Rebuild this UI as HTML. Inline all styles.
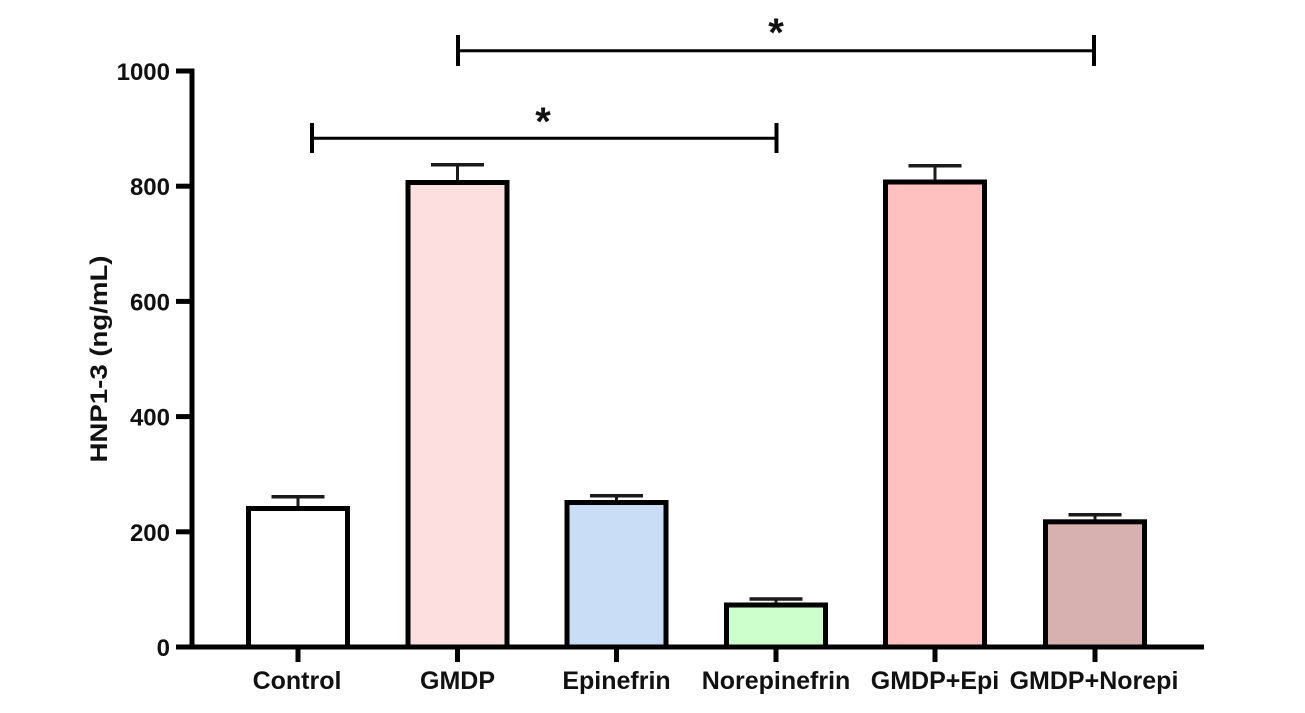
<!DOCTYPE html>
<html>
<head>
<meta charset="utf-8">
<style>
  html, body { margin: 0; padding: 0; background: #ffffff; }
  svg { display: block; }
  text { font-family: "Liberation Sans", Arial, sans-serif; font-weight: bold; fill: #111; }
</style>
</head>
<body>
<svg width="1305" height="713" viewBox="0 0 1305 713" xmlns="http://www.w3.org/2000/svg">
  <rect x="0" y="0" width="1305" height="713" fill="#ffffff"/>

  <!-- Bars -->
  <rect x="248.5" y="508.5" width="99" height="138.5" fill="#ffffff" stroke="#000" stroke-width="5"/>
  <rect x="408" y="182.5" width="99" height="464.5" fill="#fedfe0" stroke="#000" stroke-width="5"/>
  <rect x="567" y="502.5" width="99" height="144.5" fill="#c9ddf6" stroke="#000" stroke-width="5"/>
  <rect x="726.5" y="605" width="99" height="42" fill="#ccffcc" stroke="#000" stroke-width="5"/>
  <rect x="885.5" y="182" width="99" height="465" fill="#ffc0c0" stroke="#000" stroke-width="5"/>
  <rect x="1045.5" y="521.8" width="99" height="125.2" fill="#d6b1b0" stroke="#000" stroke-width="5"/>

  <!-- Error bars -->
  <g stroke="#1a1a1a" fill="none">
    <line x1="298" y1="496.7" x2="298" y2="506" stroke-width="3"/>
    <line x1="271.5" y1="496.7" x2="324.5" y2="496.7" stroke-width="3.5"/>
    <line x1="457.5" y1="164.7" x2="457.5" y2="180" stroke-width="3"/>
    <line x1="431" y1="164.7" x2="484" y2="164.7" stroke-width="3.5"/>
    <line x1="616.5" y1="495.7" x2="616.5" y2="500" stroke-width="3"/>
    <line x1="590" y1="495.7" x2="643" y2="495.7" stroke-width="3.5"/>
    <line x1="776" y1="599" x2="776" y2="603" stroke-width="3"/>
    <line x1="749.5" y1="599" x2="802.5" y2="599" stroke-width="3.5"/>
    <line x1="935" y1="165.7" x2="935" y2="180" stroke-width="3"/>
    <line x1="908.5" y1="165.7" x2="961.5" y2="165.7" stroke-width="3.5"/>
    <line x1="1095" y1="514.7" x2="1095" y2="519.5" stroke-width="3"/>
    <line x1="1068.5" y1="514.7" x2="1121.5" y2="514.7" stroke-width="3.5"/>
  </g>

  <!-- Axes -->
  <g stroke="#000" stroke-width="5" fill="none">
    <line x1="192" y1="68.5" x2="192" y2="649.5"/>
    <line x1="176" y1="647" x2="1204" y2="647"/>
    <!-- y ticks -->
    <line x1="176" y1="71" x2="192" y2="71"/>
    <line x1="176" y1="186.2" x2="192" y2="186.2"/>
    <line x1="176" y1="301.4" x2="192" y2="301.4"/>
    <line x1="176" y1="416.6" x2="192" y2="416.6"/>
    <line x1="176" y1="531.8" x2="192" y2="531.8"/>
    <!-- x ticks -->
    <line x1="298" y1="647" x2="298" y2="662"/>
    <line x1="457.5" y1="647" x2="457.5" y2="662"/>
    <line x1="616.5" y1="647" x2="616.5" y2="662"/>
    <line x1="776" y1="647" x2="776" y2="662"/>
    <line x1="935" y1="647" x2="935" y2="662"/>
    <line x1="1095" y1="647" x2="1095" y2="662"/>
  </g>

  <!-- Y tick labels -->
  <g font-size="24" text-anchor="end">
    <text x="170" y="80">1000</text>
    <text x="170" y="195.2">800</text>
    <text x="170" y="310.4">600</text>
    <text x="170" y="425.6">400</text>
    <text x="170" y="540.8">200</text>
    <text x="170" y="656">0</text>
  </g>

  <!-- X labels -->
  <g font-size="25" text-anchor="middle">
    <text x="297" y="689">Control</text>
    <text x="457.5" y="689">GMDP</text>
    <text x="616.5" y="689">Epinefrin</text>
    <text x="776" y="689">Norepinefrin</text>
    <text x="935" y="689">GMDP+Epi</text>
    <text x="1094" y="689">GMDP+Norepi</text>
  </g>

  <!-- Y axis title -->
  <text font-size="24" text-anchor="middle" transform="translate(107,359) rotate(-90)" textLength="207" lengthAdjust="spacingAndGlyphs">HNP1-3 (ng/mL)</text>

  <!-- Significance brackets -->
  <g stroke="#000" fill="none">
    <line x1="458" y1="50.7" x2="1094" y2="50.7" stroke-width="3"/>
    <line x1="458" y1="35" x2="458" y2="66" stroke-width="4"/>
    <line x1="1094" y1="35" x2="1094" y2="66" stroke-width="4"/>
    <line x1="312" y1="138.3" x2="776.5" y2="138.3" stroke-width="3"/>
    <line x1="312" y1="123" x2="312" y2="153" stroke-width="4"/>
    <line x1="776.5" y1="123" x2="776.5" y2="153" stroke-width="4"/>
  </g>
  <text x="776" y="46" font-size="40" text-anchor="middle">*</text>
  <text x="543" y="135" font-size="40" text-anchor="middle">*</text>
</svg>
</body>
</html>
